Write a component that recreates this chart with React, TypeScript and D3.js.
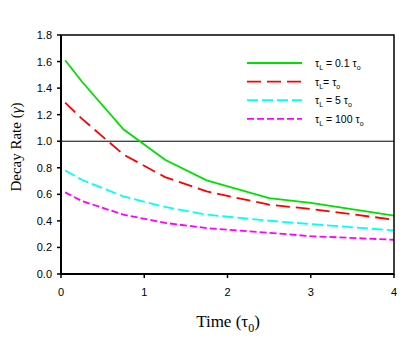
import React from 'react';
import * as d3 from 'd3';

// time points (tau_0) and decay rates for each tau_L
const times = [0.05, 0.25, 0.75, 1.25, 1.75, 2.5, 3, 4];
const green01 = [1.61, 1.45, 1.09, 0.86, 0.705, 0.572, 0.535, 0.44];
const red1 = [1.29, 1.17, 0.9, 0.73, 0.622, 0.522, 0.49, 0.409];
const cyan5 = [0.78, 0.71, 0.584, 0.505, 0.447, 0.401, 0.376, 0.328];
const magenta100 = [0.615, 0.55, 0.447, 0.385, 0.346, 0.31, 0.285, 0.258];

const xTicks = [0, 1, 2, 3, 4];
const yTicks = [0, 0.2, 0.4, 0.6, 0.8, 1.0, 1.2, 1.4, 1.6, 1.8];

const series = [
  { name: '0.1 ', values: green01, color: '#00e000', dash: 'none' },
  { name: '', values: red1, color: '#ff0000', dash: '14,6' },
  { name: '5 ', values: cyan5, color: '#00ffff', dash: '11,4' },
  { name: '100 ', values: magenta100, color: '#ff00ff', dash: '7,3' },
];

const W = 414;
const H = 339;
const margin = { top: 35, right: 20, bottom: 65, left: 61 };

export default function App() {
  const x = d3.scaleLinear().domain([0, 4]).range([margin.left, W - margin.right]);
  const y = d3.scaleLinear().domain([0, 1.8]).range([H - margin.bottom, margin.top]);

  const line = d3
    .line<number>()
    .x((_, i) => x(times[i]))
    .y((d) => y(d));

  const sans = 'Liberation Sans, Arial, sans-serif';
  const serif = 'Liberation Serif, Times New Roman, serif';

  return (
    <svg width={W} height={H} style={{ position: 'absolute', left: 0, top: 0 }}>
      <rect x={0} y={0} width={W} height={H} fill="#fff" />

      {/* reference line at 1.0 */}
      <line x1={x(0)} x2={x(4)} y1={y(1)} y2={y(1)} stroke="#000" strokeWidth={1} />

      {series.map((s, i) => (
        <path
          key={i}
          d={line(s.values) || ''}
          fill="none"
          stroke={s.color}
          strokeWidth={1.8}
          strokeDasharray={s.dash}
        />
      ))}

      {/* frame */}
      <rect
        x={x(0)}
        y={y(1.8)}
        width={x(4) - x(0)}
        height={y(0) - y(1.8)}
        fill="none"
        stroke="#000"
        strokeWidth={1.5}
      />
      <line x1={x(0)} x2={x(0)} y1={y(0)} y2={y(1.8)} stroke="#000" strokeWidth={2} />
      <line x1={x(0)} x2={x(4)} y1={y(0)} y2={y(0)} stroke="#000" strokeWidth={2} />

      {/* y axis */}
      {yTicks.map((t) => (
        <g key={t}>
          <line x1={x(0) - 4} x2={x(0)} y1={y(t)} y2={y(t)} stroke="#000" strokeWidth={1.5} />
          <text
            x={x(0) - 9}
            y={y(t)}
            dy="0.36em"
            textAnchor="end"
            fontFamily={sans}
            fontSize={11}
            fill="#000"
          >
            {t.toFixed(1)}
          </text>
        </g>
      ))}

      {/* x axis */}
      {xTicks.map((t) => (
        <g key={t}>
          <line x1={x(t)} x2={x(t)} y1={y(0)} y2={y(0) + 4} stroke="#000" strokeWidth={1.5} />
          <text
            x={x(t)}
            y={y(0) + 22}
            textAnchor="middle"
            fontFamily={sans}
            fontSize={11}
            fill="#000"
          >
            {t}
          </text>
        </g>
      ))}

      {/* axis titles */}
      <text x={228} y={327} textAnchor="middle" fontFamily={serif} fontSize={17} fill="#000">
        Time (τ<tspan fontSize={12} dy={5}>0</tspan>
        <tspan dy={-5}>)</tspan>
      </text>
      <text
        transform="translate(21,147) rotate(-90)"
        textAnchor="middle"
        fontFamily={serif}
        fontSize={15}
        fill="#000"
      >
        Decay Rate (<tspan fontStyle="italic">γ</tspan>)
      </text>

      {/* legend */}
      {series.map((s, i) => {
        const ly = 63 + i * 18.6;
        return (
          <g key={i}>
            <line
              x1={247}
              x2={302}
              y1={ly}
              y2={ly}
              stroke={s.color}
              strokeWidth={1.8}
              strokeDasharray={s.dash}
            />
            <text x={315} y={ly + 4} fontFamily={sans} fontSize={10.5} fill="#000">
              τ<tspan fontSize={7} dy={3}>L</tspan>
              <tspan dy={-3}>{i === 1 ? '= ' : ' = '}{s.name}τ</tspan>
              <tspan fontSize={7} dy={3}>o</tspan>
            </text>
          </g>
        );
      })}
    </svg>
  );
}
